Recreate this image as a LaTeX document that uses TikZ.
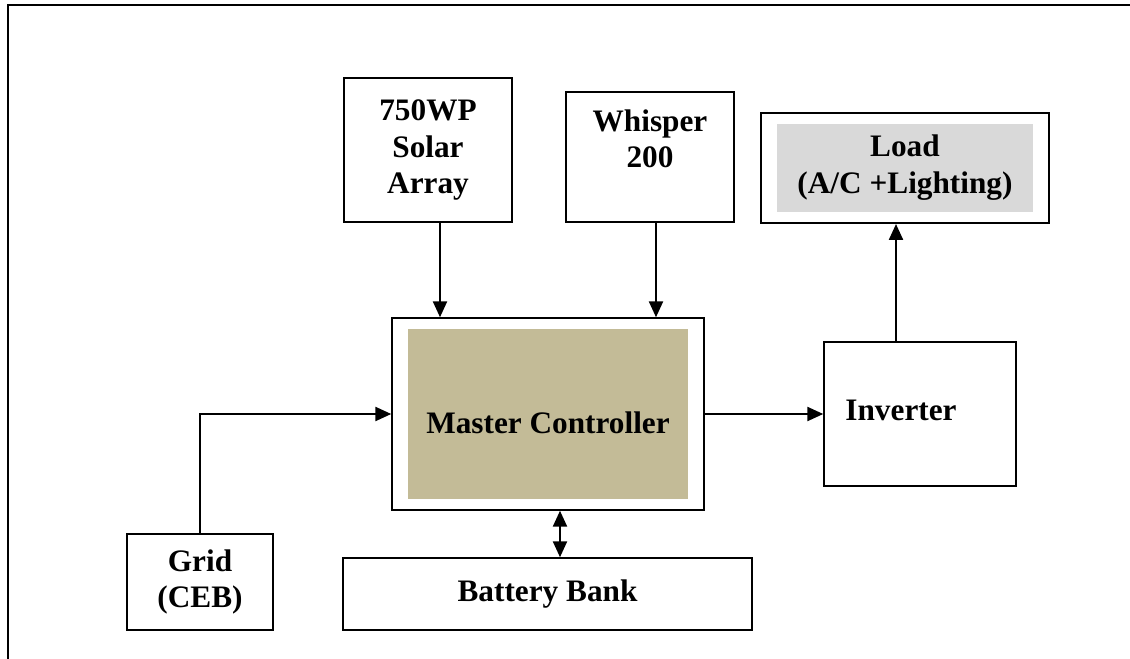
\documentclass[tikz,border=0pt]{standalone}
\usepackage{fontspec}
\setmainfont{Liberation Serif}
\usepackage{xcolor}
\usepackage{tikz}
\usetikzlibrary{arrows.meta,calc}
\definecolor{CtrlTan}{HTML}{C3BB97}
\definecolor{LoadGray}{HTML}{D9D9D9}

\begin{document}
\begin{tikzpicture}[x=0.02cm, y=-0.02cm,
        every node/.style={font=\fontsize{17.8}{21}\selectfont\bfseries},
        BX/.style={draw=black, line width=0.9pt, align=center, inner sep=0pt},
        FL/.style={inner sep=0pt},
        TX/.style={inner sep=0pt, align=center},
        arr/.style={-{Triangle[length=9pt,width=8pt]}, line width=1pt},
        darr/.style={{Triangle[length=9pt,width=8pt]}-{Triangle[length=9pt,width=8pt]}, line width=1pt},
      ]

      \useasboundingbox (0,0) rectangle (1130,659);

      % Page frame
      \draw[line width=0.9pt] (8,659) -- (8,5) -- (1130,5);

      % Main nodes
      \node[BX, minimum width=3.36cm, minimum height=2.88cm] (solar) at (428,150) {750WP\\Solar\\Array};

      \node[BX, minimum width=3.36cm, minimum height=2.6cm] (wind) at (650,157) {};
      \node[TX, anchor=north] (windtxt) at (650,109) {Whisper\\200};

      \node[BX, line width=1.2pt, minimum width=5.76cm, minimum height=2.2cm] (load) at (905,168) {};
      \node[FL, fill=LoadGray, align=center, minimum width=5.12cm, minimum height=1.76cm] (loadin) at (905,168) {Load\\(A/C +Lighting)};

      \node[BX, minimum width=6.24cm, minimum height=3.84cm] (mc) at (548,414) {};
      \node[FL, fill=CtrlTan, minimum width=5.6cm, minimum height=3.4cm,
        text height=22pt, text depth=0pt] (mcin) at (548,414) {Master Controller};

      \node[BX, minimum width=3.84cm, minimum height=2.88cm] (inv) at (920,414) {};
      \node[TX, anchor=base] (invtxt) at (901,420) {Inverter};

      \node[BX, minimum width=2.92cm, minimum height=1.92cm] (grid) at (200,582) {Grid\\(CEB)};
      \node[BX, minimum width=8.18cm, minimum height=1.44cm] (bat) at (547.5,594) {Battery Bank};

      % Arrows
      \draw[arr] ([xshift=0.24cm]solar.south) -- ([xshift=0.24cm]solar.south |- mc.north);
      \draw[arr] ([xshift=0.12cm]wind.south) -- ([xshift=0.12cm]wind.south |- mc.north);
      \draw[arr] (grid.north) |- (mc.west);
      \draw[arr] (mc.east) -- (inv.west);
      \draw[arr] ([xshift=-0.48cm]inv.north) -- ([xshift=-0.48cm]inv.north |- load.south);
      \draw[darr] ([xshift=0.24cm]mc.south) -- ([xshift=0.24cm]mc.south |- bat.north);

    \end{tikzpicture}
\end{document}
